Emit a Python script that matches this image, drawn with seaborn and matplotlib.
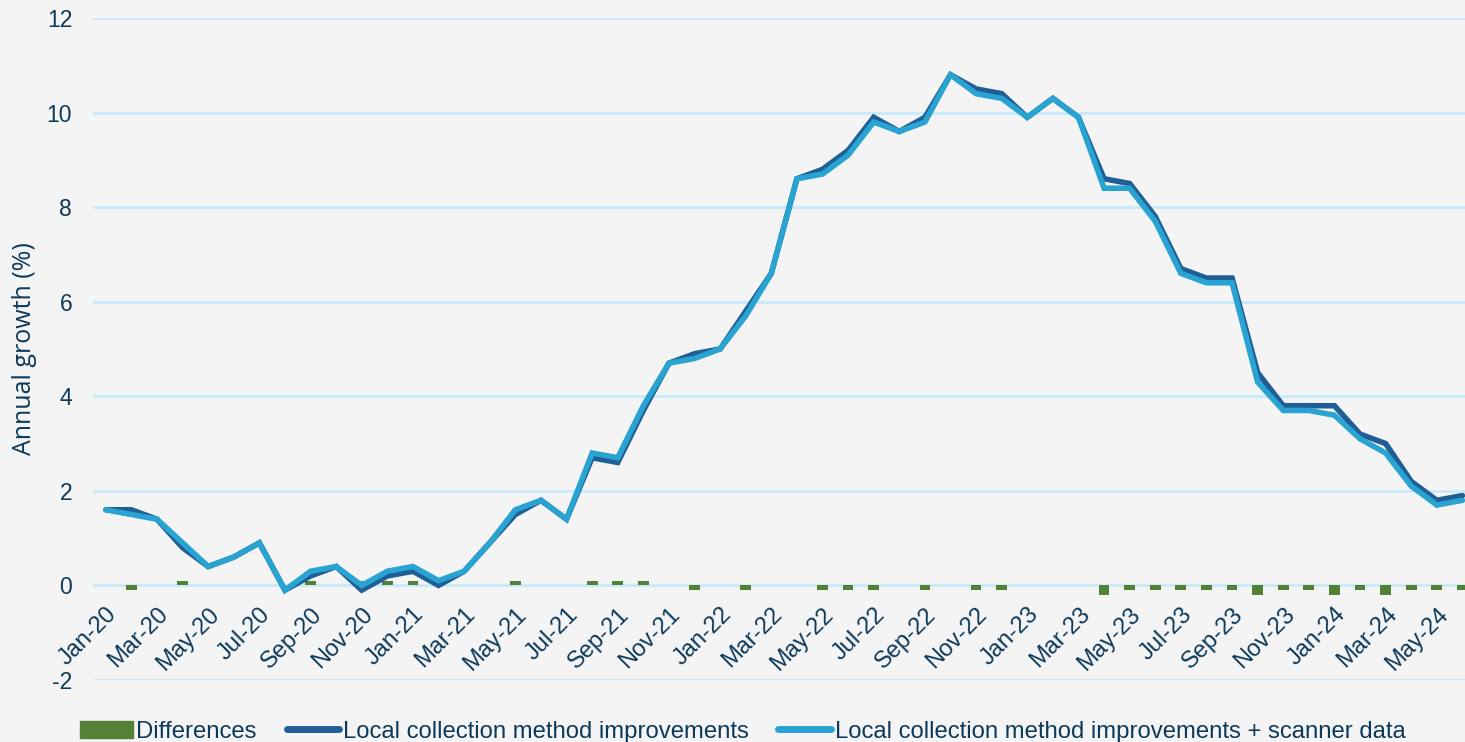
import matplotlib
matplotlib.use("Agg")
import matplotlib.pyplot as plt
import seaborn as sns
import pandas as pd
import numpy as np
from matplotlib.patches import Patch
from matplotlib.lines import Line2D

months = []
for yr in ["20", "21", "22", "23", "24"]:
    for m in ["Jan", "Feb", "Mar", "Apr", "May", "Jun", "Jul", "Aug", "Sep", "Oct", "Nov", "Dec"]:
        months.append(f"{m}-{yr}")
months = months[:54]

local = [1.6, 1.6, 1.4, 0.8, 0.4, 0.6, 0.9, -0.1, 0.2, 0.4,
         -0.1, 0.2, 0.3, 0.0, 0.3, 0.9, 1.5, 1.8, 1.4, 2.7,
         2.6, 3.7, 4.7, 4.9, 5.0, 5.8, 6.6, 8.6, 8.8, 9.2,
         9.9, 9.6, 9.9, 10.8, 10.5, 10.4, 9.9, 10.3, 9.9, 8.6,
         8.5, 7.8, 6.7, 6.5, 6.5, 4.5, 3.8, 3.8, 3.8, 3.2,
         3.0, 2.2, 1.8, 1.9]
scanner = [1.6, 1.5, 1.4, 0.9, 0.4, 0.6, 0.9, -0.1, 0.3, 0.4,
           0.0, 0.3, 0.4, 0.1, 0.3, 0.9, 1.6, 1.8, 1.4, 2.8,
           2.7, 3.8, 4.7, 4.8, 5.0, 5.7, 6.6, 8.6, 8.7, 9.1,
           9.8, 9.6, 9.8, 10.8, 10.4, 10.3, 9.9, 10.3, 9.9, 8.4,
           8.4, 7.7, 6.6, 6.4, 6.4, 4.3, 3.7, 3.7, 3.6, 3.1,
           2.8, 2.1, 1.7, 1.8]
differences = [0.0, -0.1, 0.0, 0.1, 0.0, 0.0, 0.0, 0.0, 0.1, 0.0,
               0.1, 0.1, 0.1, 0.1, 0.0, 0.0, 0.1, 0.0, 0.0, 0.1,
               0.1, 0.1, 0.0, -0.1, 0.0, -0.1, 0.0, 0.0, -0.1, -0.1,
               -0.1, 0.0, -0.1, 0.0, -0.1, -0.1, 0.0, 0.0, 0.0, -0.2,
               -0.1, -0.1, -0.1, -0.1, -0.1, -0.2, -0.1, -0.1, -0.2, -0.1,
               -0.2, -0.1, -0.1, -0.1]

series_names = ["Differences", "Local collection method improvements",
                "Local collection method improvements + scanner data"]

BG = "#f4f4f4"
NAVY = "#0d3a5a"
GRID = "#c6e9fb"
GREEN = "#538135"
DARK = "#1f5f96"
LIGHT = "#29a3d1"
FS = 16.5

df = pd.DataFrame({"idx": np.arange(len(months)), "month": months,
                   "local": local, "scanner": scanner, "diff": differences})

sns.set_theme(style="white")
plt.rcParams["font.family"] = ["Liberation Sans", "DejaVu Sans"]
plt.rcParams["axes.unicode_minus"] = False

fig = plt.figure(figsize=(14.65, 7.42), dpi=100, facecolor=BG)
ax = fig.add_axes([93 / 1465, (742 - 680) / 742, (1465 - 93) / 1465, (680 - 18) / 742])
ax.set_facecolor(BG)

ax.set_axisbelow(True)
ax.yaxis.grid(True, color=GRID, linewidth=2.0)

sns.barplot(data=df, x="idx", y="diff", native_scale=True, color=GREEN,
            width=0.42, saturation=1, ax=ax, zorder=2, linewidth=0)
sns.lineplot(data=df, x="idx", y="local", color=DARK, linewidth=4.0, ax=ax,
             zorder=3, solid_joinstyle="miter")
sns.lineplot(data=df, x="idx", y="scanner", color=LIGHT, linewidth=4.0, ax=ax,
             zorder=4, solid_joinstyle="miter")

ax.spines["bottom"].set_position(("data", 0))
for s in ax.spines.values():
    s.set_visible(False)
ax.set_xlim(-0.5, 53.1)
ax.set_ylim(-2, 12)
ax.set_yticks(np.arange(-2, 13, 2))
ax.set_xticks(df["idx"][::2])
ax.set_xticklabels(df["month"][::2], rotation=45, ha="right", rotation_mode="anchor")
ax.tick_params(axis="both", length=0, labelsize=FS, colors=NAVY)
ax.tick_params(axis="y", pad=15)
ax.tick_params(axis="x", labelsize=17, pad=13)
ax.set_xlabel("")
ax.set_ylabel("Annual growth (%)", fontsize=18, color=NAVY, family=["Open Sans", "DejaVu Sans"])
ax.yaxis.set_label_coords(-0.041, 0.5)

handles = [Patch(facecolor=GREEN, edgecolor=GREEN),
           Line2D([0], [0], color=DARK, linewidth=5, solid_capstyle="round"),
           Line2D([0], [0], color=LIGHT, linewidth=5, solid_capstyle="round")]
leg = fig.legend(handles, series_names, loc="center left", bbox_to_anchor=(0.0465, 0.014),
                 ncol=3, frameon=False, fontsize=17.2, handlelength=2.2, handleheight=0.7,
                 handletextpad=0.15, columnspacing=1.25, labelcolor=NAVY, borderpad=0)

fig.savefig("out.png", dpi=100, facecolor=BG)
